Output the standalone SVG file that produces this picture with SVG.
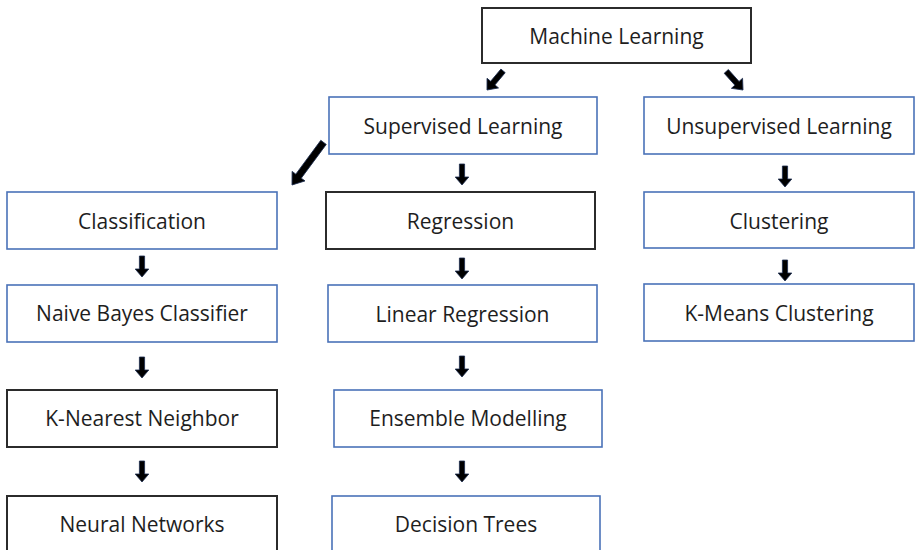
<svg xmlns="http://www.w3.org/2000/svg" width="915" height="550" viewBox="0 0 915 550">
<defs>
<style>
.blue{fill:#fff;stroke:#4a72b8;stroke-width:1.6}
.black{fill:#fff;stroke:#2b2b2b;stroke-width:2}
text{font-family:"Open Sans","Liberation Sans",sans-serif;font-size:21px;fill:#1e1e1e;text-anchor:middle;dominant-baseline:central}
.arr{fill:#000;stroke:#1c2c4f;stroke-width:0.8}
</style>
<path id="a" class="arr" d="M-2.6,-21 H2.6 V-8 H6.8 L0,0 L-6.8,-8 H-2.6 Z"/>
<path id="ad" class="arr" d="M-2.8,-25 H2.8 V-9 H7.5 L0,0 L-7.5,-9 H-2.8 Z"/>
<path id="al" class="arr" d="M-3.4,-53 H3.4 V-11 H8 L0,0 L-8,-11 H-3.4 Z"/>
</defs>
<rect width="915" height="550" fill="#fff"/>
<g id="connectors">
<use href="#ad" transform="translate(487,90) rotate(40)"/>
<use href="#ad" transform="translate(743,90) rotate(-42)"/>
<use href="#al" transform="translate(292,185) rotate(36.5)"/>
<use href="#a" transform="translate(142,277)"/>
<use href="#a" transform="translate(142,378)"/>
<use href="#a" transform="translate(142,482)"/>
<use href="#a" transform="translate(462,185)"/>
<use href="#a" transform="translate(462,279)"/>
<use href="#a" transform="translate(462,377)"/>
<use href="#a" transform="translate(462,482)"/>
<use href="#a" transform="translate(785,187)"/>
<use href="#a" transform="translate(785,281)"/>
</g>
<g id="ml"><rect class="black" x="482" y="8" width="269" height="55"/><text x="616.5" y="36">Machine Learning</text></g>
<g id="supervised"><rect class="blue" x="329" y="97" width="268" height="57"/><text x="463" y="126">Supervised Learning</text></g>
<g id="unsupervised"><rect class="blue" x="644" y="97" width="270" height="57"/><text x="779" y="126">Unsupervised Learning</text></g>
<g id="classification"><rect class="blue" x="7" y="192" width="270" height="57"/><text x="142" y="221">Classification</text></g>
<g id="regression"><rect class="black" x="326" y="192" width="269" height="57"/><text x="460.5" y="221">Regression</text></g>
<g id="clustering"><rect class="blue" x="644" y="192" width="270" height="56"/><text x="779" y="221">Clustering</text></g>
<g id="naive"><rect class="blue" x="7" y="285" width="270" height="57"/><text x="142" y="313">Naive Bayes Classifier</text></g>
<g id="linear"><rect class="blue" x="328" y="285" width="269" height="57"/><text x="462.5" y="314">Linear Regression</text></g>
<g id="kmeans"><rect class="blue" x="644" y="284" width="270" height="57"/><text x="779" y="313">K-Means Clustering</text></g>
<g id="knn"><rect class="black" x="7" y="390" width="270" height="57"/><text x="142" y="418">K-Nearest Neighbor</text></g>
<g id="ensemble"><rect class="blue" x="334" y="390" width="268" height="57"/><text x="468" y="418">Ensemble Modelling</text></g>
<g id="neural"><rect class="black" x="7" y="496" width="270" height="60"/><text x="142" y="524">Neural Networks</text></g>
<g id="decision"><rect class="blue" x="332" y="496" width="268" height="60"/><text x="466" y="524">Decision Trees</text></g>
</svg>
